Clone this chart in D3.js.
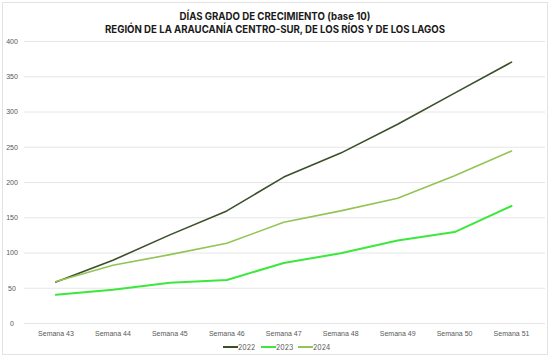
<!DOCTYPE html>
<html><head><meta charset="utf-8">
<script src="https://cdn.jsdelivr.net/npm/d3@7"></script>
<style>body{margin:0;background:#fff;}svg{display:block;font-family:Inter,"Liberation Sans",Arial,sans-serif;}</style>
</head><body>
<svg id="c" width="550" height="360"></svg>
<script>
const categories = ["Semana 43","Semana 44","Semana 45","Semana 46","Semana 47","Semana 48","Semana 49","Semana 50","Semana 51"];
const s2022 = [58, 89, 125, 159, 207, 241, 282, 326, 370];
const s2023 = [40, 47, 57, 61, 85, 99, 117, 129, 166];
const s2024 = [59, 82, 97, 113, 143, 159, 177, 209, 244];
const seriesNames = ["2022","2023","2024"];
const colors = ["#3a4f2a","#3ce83c","#93c455"];
const yTicks = [0,50,100,150,200,250,300,350,400];
const titleLines = ["DÍAS GRADO DE CRECIMIENTO (base 10)","REGIÓN DE LA ARAUCANÍA CENTRO-SUR, DE LOS RÍOS Y DE LOS LAGOS"];

const svg = d3.select("#c");
svg.append("rect").attr("x",2.5).attr("y",2.5).attr("width",545).attr("height",352)
  .attr("fill","#fff").attr("stroke","#e3e3e3");

const x = d3.scaleBand().domain(categories).range([27.5, 540]);
const y = d3.scaleLinear().domain([0,400]).range([323, 41]);

const yAxis = d3.axisLeft(y).tickValues(yTicks).tickSize(0).tickPadding(0);
const gy = svg.append("g").attr("transform","translate(24,0)").call(yAxis);
gy.select(".domain").remove();
gy.selectAll(".tick line").attr("stroke","#e6e6e6").attr("x1",0).attr("x2", 545-24);
gy.selectAll(".tick text").attr("fill","#595959").attr("font-size","7px").attr("x",-12).attr("text-anchor","middle");

const xAxis = d3.axisBottom(x).tickSize(0).tickPadding(8);
const gx = svg.append("g").attr("transform","translate(0,323)").call(xAxis);
gx.select(".domain").remove();
gx.selectAll(".tick text").attr("fill","#595959").attr("font-size","7px");

const all = [s2022, s2023, s2024];
const line = d3.line().x((d,i)=>x(categories[i])+x.bandwidth()/2).y(d=>y(d));
all.forEach((s,k)=>{
  svg.append("path").datum(s).attr("d",line).attr("fill","none")
    .attr("stroke",colors[k]).attr("stroke-width",k===1?2:1.6).attr("stroke-linejoin","round").attr("stroke-linecap","round");
});

svg.append("text").attr("x",275).attr("y",19.5).attr("text-anchor","middle")
  .attr("font-size","10.5px").attr("font-weight","bold").attr("fill","#1a1a1a")
  .attr("textLength",191).attr("lengthAdjust","spacingAndGlyphs").text(titleLines[0]);
svg.append("text").attr("x",275).attr("y",33).attr("text-anchor","middle")
  .attr("font-size","10.5px").attr("font-weight","bold").attr("fill","#1a1a1a")
  .attr("textLength",340).attr("lengthAdjust","spacingAndGlyphs").text(titleLines[1]);

const lg = svg.append("g").attr("transform","translate(223,347)");
const lx = [0, 38, 75];
seriesNames.forEach((n,k)=>{
  const g = lg.append("g").attr("transform",`translate(${lx[k]},0)`);
  g.append("line").attr("x1",0).attr("x2",15).attr("y1",0).attr("y2",0).attr("stroke",colors[k]).attr("stroke-width",2);
  g.append("text").attr("x",15).attr("y",2.5).attr("font-size","7px").attr("fill","#595959").text(n);
});
</script>
</body></html>
